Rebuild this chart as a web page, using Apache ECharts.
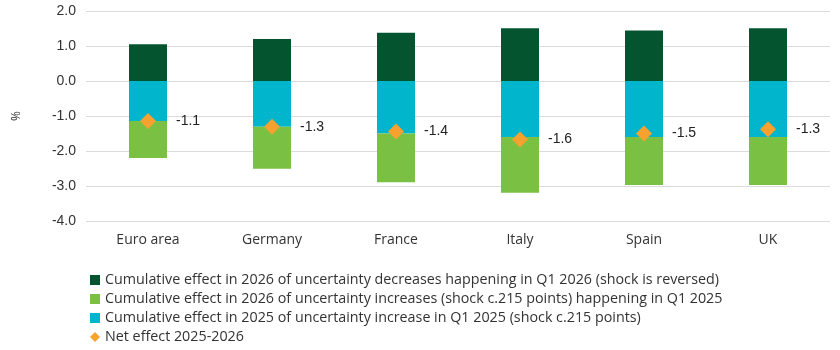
<!DOCTYPE html>
<html lang="en">
<head>
    <meta charset="UTF-8" />
    <title>Uncertainty shock effects</title>
    <script src="https://cdn.jsdelivr.net/npm/echarts@6/dist/echarts.min.js"></script>
    <style>
        html, body { margin: 0; padding: 0; background: #ffffff; }
        #main { width: 840px; height: 350px; }
    </style>
</head>
<body>
    <div id="main"></div>
    <script type="text/javascript">
        // categories and values
        var countries = ['Euro area', 'Germany', 'France', 'Italy', 'Spain', 'UK'];
        var effect2025 = [-1.14, -1.31, -1.50, -1.60, -1.60, -1.60];       // cyan
        var effect2026Up = [-1.06, -1.20, -1.39, -1.59, -1.37, -1.37];     // light green
        var effect2026Down = [1.05, 1.20, 1.38, 1.51, 1.44, 1.51];         // dark green
        var netEffect = [-1.14, -1.31, -1.44, -1.67, -1.50, -1.38];
        var netLabels = ['-1.1', '-1.3', '-1.4', '-1.6', '-1.5', '-1.3'];

        var names = [
            'Cumulative effect in 2026 of uncertainty decreases happening in Q1 2026 (shock is reversed)',
            'Cumulative effect in 2026 of uncertainty increases (shock c.215 points) happening in Q1 2025',
            'Cumulative effect in 2025 of uncertainty increase in Q1 2025 (shock c.215 points)',
            'Net effect 2025-2026'
        ];

        var chartDom = document.getElementById('main');
        var myChart = echarts.init(chartDom);
        var option;

        option = {
            animation: false,
            textStyle: { fontFamily: 'Open Sans' },
            grid: { left: 86, right: 10, top: 11, bottom: 129 },
            legend: {
                orient: 'vertical',
                left: 85,
                top: 268,
                itemWidth: 10,
                itemHeight: 10,
                itemGap: 5,
                textStyle: { fontSize: 14.3, color: '#333', fontFamily: 'Open Sans' },
                data: [
                    { name: names[0], icon: 'rect' },
                    { name: names[1], icon: 'rect' },
                    { name: names[2], icon: 'rect' },
                    { name: names[3], icon: 'diamond' }
                ]
            },
            xAxis: {
                type: 'category',
                data: countries,
                axisLine: { show: false },
                axisTick: { show: false },
                axisLabel: { fontSize: 14, color: '#333', margin: 12, fontFamily: 'Open Sans' }
            },
            yAxis: {
                type: 'value',
                min: -4,
                max: 2,
                interval: 1,
                name: '%',
                nameLocation: 'middle',
                nameGap: 63,
                nameTextStyle: { fontSize: 12, color: '#333' },
                axisLabel: {
                    fontSize: 14, color: '#333', margin: 10,
                    fontFamily: 'Liberation Sans',
                    formatter: function (v) { return v.toFixed(1); }
                },
                splitLine: { lineStyle: { color: '#dcdcdc' } }
            },
            series: [
                {
                    name: names[2],
                    type: 'bar',
                    stack: 'total',
                    barWidth: 38,
                    data: effect2025,
                    itemStyle: { color: '#00B5CC' }
                },
                {
                    name: names[1],
                    type: 'bar',
                    stack: 'total',
                    barWidth: 38,
                    data: effect2026Up,
                    itemStyle: { color: '#7AC143' }
                },
                {
                    name: names[0],
                    type: 'bar',
                    stack: 'total',
                    barWidth: 38,
                    data: effect2026Down,
                    itemStyle: { color: '#03542F' }
                },
                {
                    name: names[3],
                    type: 'scatter',
                    symbol: 'diamond',
                    symbolSize: 16,
                    data: netEffect,
                    itemStyle: { color: '#F7A12E', opacity: 1 },
                    label: {
                        show: true,
                        position: 'right',
                        distance: 20,
                        fontSize: 14,
                        color: '#222',
                        fontFamily: 'Liberation Sans',
                        formatter: function (p) { return netLabels[p.dataIndex]; }
                    }
                }
            ]
        };
        option && myChart.setOption(option);
    </script>
</body>
</html>
